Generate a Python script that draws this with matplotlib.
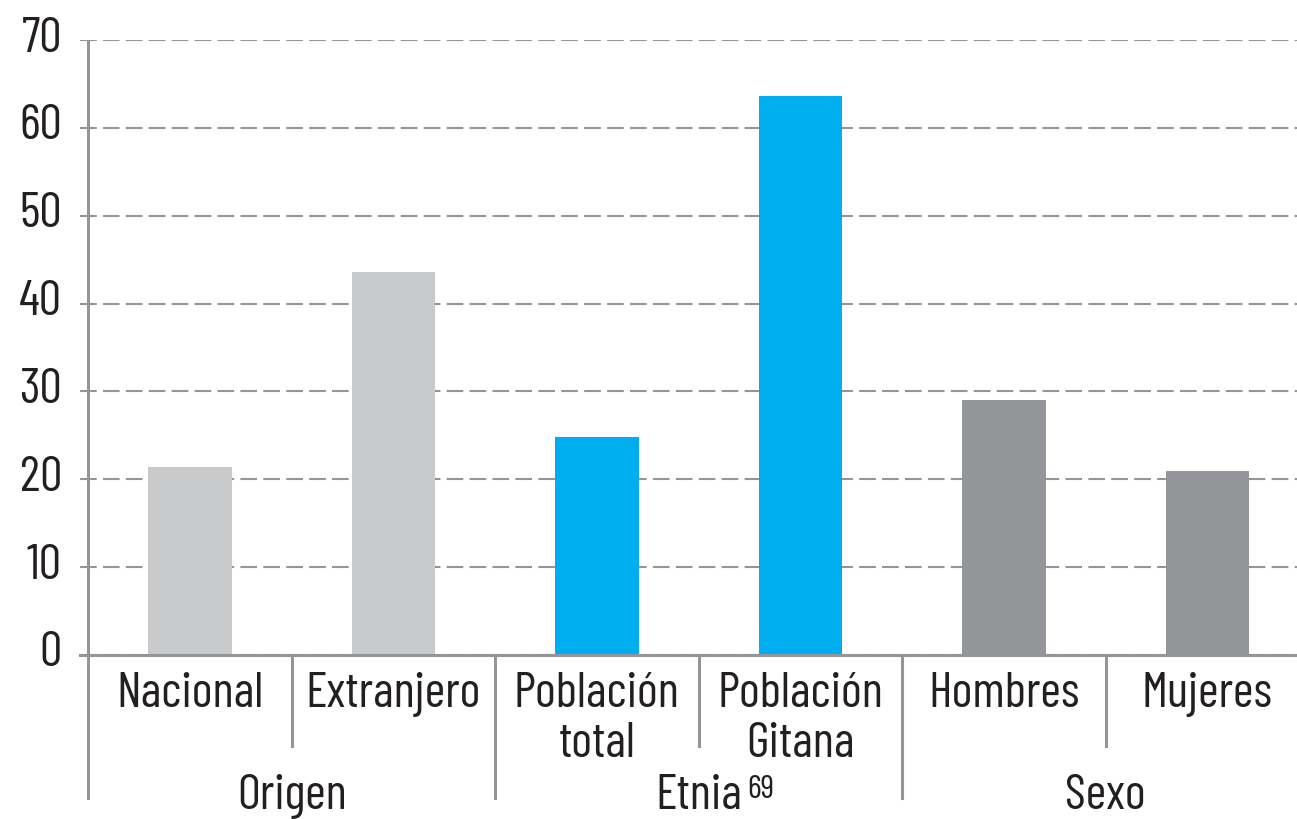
import matplotlib
matplotlib.use('Agg')
from matplotlib import pyplot as plt
from matplotlib import transforms

plt.rcParams['font.family'] = ['Barlow Condensed', 'DejaVu Sans']

# data
categories = ['Nacional', 'Extranjero', 'Población\ntotal', 'Población\nGitana', 'Hombres', 'Mujeres']
values = [21.4, 43.6, 24.8, 63.6, 29.0, 20.9]
groups = ['Origen', 'Etnia', 'Sexo']
group_sizes = [2, 2, 2]
group_note = ['', '69', '']
yticks = [0, 10, 20, 30, 40, 50, 60, 70]

lightGray = '#c8c9cb'
blue = '#00aeef'
darkGray = '#939598'
lineColor = '#939598'
textColor = '#231f20'
group_colors = [lightGray, blue, darkGray]

colors = []
for c, n in zip(group_colors, group_sizes):
    colors += [c] * n

fig = plt.figure(figsize=(12.97, 8.19), dpi=100)
ax = fig.add_axes([80 / 1297, 164 / 819, 1217 / 1297, 615 / 819])

x = list(range(len(categories)))
ax.bar(x, values, width=0.41, color=colors, zorder=3)

ax.set_xlim(-0.54, 5.44)
ax.set_ylim(0, 70)
ax.set_yticks(yticks)
ax.set_xticks([])
ax.yaxis.grid(True, color=lineColor, linewidth=1.5, linestyle=(0, (8, 3)), zorder=1)
for s in ['top', 'right', 'left']:
    ax.spines[s].set_visible(False)
ax.spines['bottom'].set_color(lineColor)
ax.spines['bottom'].set_linewidth(2.2)
ax.spines['bottom'].set_zorder(4)
ax.axvline(-0.5, color=lineColor, linewidth=2.2, zorder=4)

fs = 36
ax.tick_params(axis='y', length=0, pad=13, labelsize=fs, labelcolor=textColor)
offset = transforms.ScaledTranslation(0, 6 / 100, fig.dpi_scale_trans)
for lab in ax.get_yticklabels():
    lab.set_transform(lab.get_transform() + offset)

xt = ax.get_xaxis_transform()
h = 615.0
# etiquetas de categoría
for i, lab in enumerate(categories):
    for j, line in enumerate(lab.split('\n')):
        ax.text(i, -(52 + 50 * j) / h, line, transform=xt, ha='center', va='baseline',
                fontsize=fs, color=textColor)

# separadores y etiquetas de grupo
start = 0
for g, n, note in zip(groups, group_sizes, group_note):
    ax.plot([start - 0.5, start - 0.5], [0, -143 / h], transform=xt, color=lineColor,
            linewidth=2.2, clip_on=False)
    for k in range(1, n):
        ax.plot([start + k - 0.5] * 2, [0, -91 / h], transform=xt, color=lineColor,
                linewidth=2.2, clip_on=False)
    t = ax.text(start + (n - 1) / 2, -154 / h, g, transform=xt, ha='center', va='baseline',
                fontsize=fs, color=textColor)
    if note:
        ax.annotate(note, xy=(1, 1), xycoords=t, xytext=(4, -1), textcoords='offset points',
                    ha='left', va='top', fontsize=24, color=textColor)
    start += n
ax.plot([start - 0.5, start - 0.5], [0, -143 / h], transform=xt, color=lineColor,
        linewidth=2.2, clip_on=False)

fig.savefig('out.png', dpi=100)
